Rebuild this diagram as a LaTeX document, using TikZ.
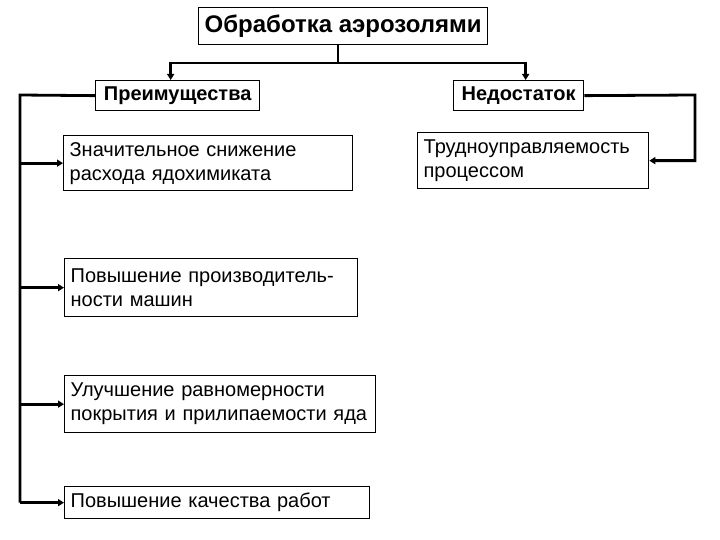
\documentclass[tikz,border=0pt]{standalone}
\usepackage{fontspec}
\setmainfont{Liberation Sans}
\usetikzlibrary{arrows.meta}
\begin{document}
\begin{tikzpicture}[x=1pt,y=-1pt,
  box/.style={draw, line width=1.3pt, anchor=north west, inner xsep=6pt, inner ysep=0pt, align=left, font=\fontsize{20}{24}\selectfont},
  hbox/.style={draw, line width=1.3pt, anchor=north west, inner sep=0pt, align=center, font=\fontsize{20}{22}\selectfont\bfseries},
  conn/.style={line width=2.8pt, line join=miter},
  arr/.style={conn, -{Triangle[length=6pt,width=7pt]}}]
\useasboundingbox (0,0) rectangle (720,540);
\node[hbox, minimum width=289pt, minimum height=37pt, font=\fontsize{24}{26}\selectfont\bfseries] (top) at (198,7) {Обработка аэрозолями};
\node[hbox, minimum width=164pt, minimum height=30pt] (pre) at (95,80) {Преимущества};
\node[hbox, minimum width=130pt, minimum height=30pt] (ned) at (453,80) {Недостаток};
\node[box, minimum width=289pt, minimum height=55pt, text width=277pt] (b1) at (63,135) {Значительное снижение\\расхода ядохимиката};
\node[box, minimum width=293pt, minimum height=58pt, text width=281pt] (b2) at (64,258) {Повышение производитель-\\ности машин};
\node[box, minimum width=311pt, minimum height=57pt, text width=299pt] (b3) at (64,375) {Улучшение равномерности\\покрытия и прилипаемости яда};
\node[box, minimum width=305pt, minimum height=32pt, text width=293pt] (b4) at (64,486) {Повышение качества работ};
\node[box, minimum width=231pt, minimum height=56pt, text width=219pt] (b5) at (417,132) {Трудноуправляемость\\процессом};
\coordinate (j) at (338,63);
\draw[conn] (top.south -| j) -- (j);
\draw[arr] (j) -| ([xshift=-7pt]pre.north);
\draw[arr] (j) -| ([xshift=7pt]ned.north);
\coordinate (bus) at (20,95);
\draw[conn] (pre.west) -- (bus) -- (bus |- b4.west);
\foreach \b in {b1,b2,b3,b4} \draw[arr] (bus |- \b.west) -- (\b.west);
\coordinate (rbus) at (695,95);
\draw[arr] (ned.east) -- (rbus) |- (b5.east);
\end{tikzpicture}
\end{document}
